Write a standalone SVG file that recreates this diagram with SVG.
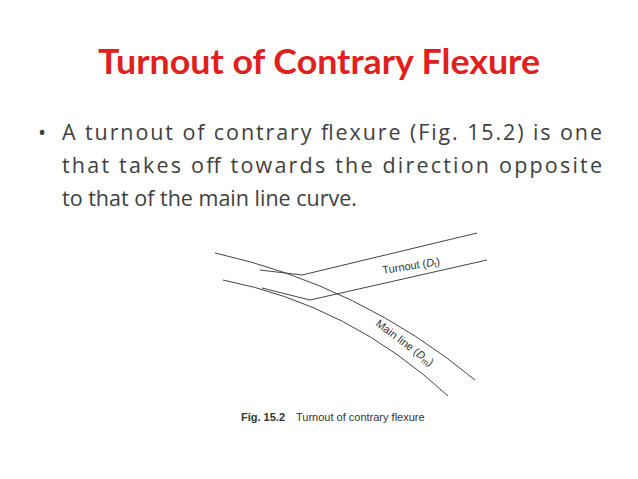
<svg xmlns="http://www.w3.org/2000/svg" width="638" height="479" viewBox="0 0 638 479">
<style>
.t{font-family:"Open Sans","Liberation Sans",sans-serif;font-size:21.5px;fill:#404040}
.l{fill:none;stroke:#444;stroke-width:1}
.d{font-family:"Liberation Sans",Arial,sans-serif;font-size:11px;fill:#333}
</style>
<rect width="638" height="479" fill="#fff"/>
<text x="319" y="74" text-anchor="middle" font-family="Lato,'Liberation Sans',sans-serif" font-weight="bold" font-size="34" fill="#e0201c" textLength="442" lengthAdjust="spacingAndGlyphs">Turnout of Contrary Flexure</text>
<g id="text">
<text class="t" x="38" y="140">•</text>
<text class="t" x="62" y="140" textLength="540" lengthAdjust="spacing">A turnout of contrary flexure (Fig. 15.2) is one</text>
<text class="t" x="62" y="173" textLength="540" lengthAdjust="spacing">that takes off towards the direction opposite</text>
<text class="t" x="62" y="206">to that of the main line curve.</text>
</g>
<g id="connectors">
<path class="l" d="M215,253 Q360,285 475,380"/>
<path class="l" d="M223,280 Q350,305 448,396"/>
<path class="l" d="M260,270 L302,275 L477,233"/>
<path class="l" d="M262,288 L310,300 L487,260"/>
</g>
<g id="labels">
<text class="d" x="383" y="274" transform="rotate(-9 383 274)">Turnout (<tspan font-style="italic">D</tspan><tspan font-size="8" dy="2">t</tspan><tspan dy="-2">)</tspan></text>
<text class="d" x="375" y="325" transform="rotate(37 375 325)">Main line (<tspan font-style="italic">D</tspan><tspan font-size="8" dy="2">m</tspan><tspan dy="-2">)</tspan></text>
<text class="d" x="241" y="421" font-weight="bold">Fig. 15.2</text>
<text class="d" x="296" y="421">Turnout of contrary flexure</text>
</g>
</svg>
